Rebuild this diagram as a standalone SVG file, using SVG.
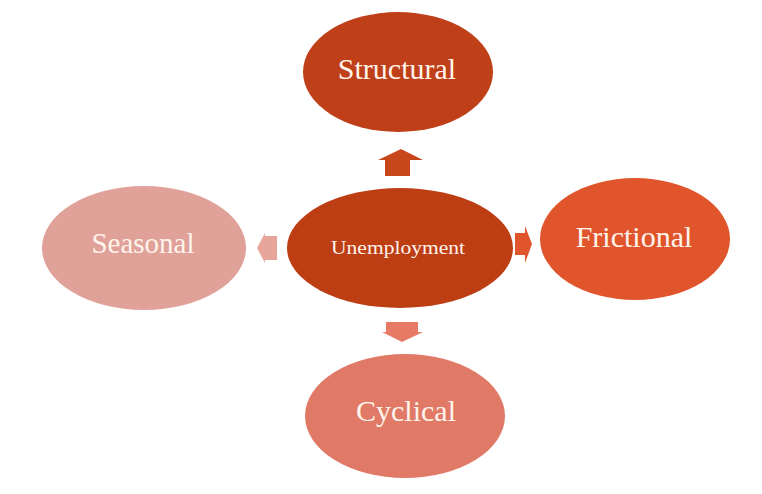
<svg xmlns="http://www.w3.org/2000/svg" width="762" height="494" viewBox="0 0 762 494">
<style>
.lbl{font-family:"Liberation Serif","Times New Roman",serif;fill:#FFF4EC;text-anchor:middle}
</style>
<rect width="762" height="494" fill="#FFFFFF"/>
<g id="connectors">
<polygon points="401,149 423,160 410,160 410,176 385,176 385,160 378,160" fill="#C8461C"/>
<polygon points="257,248 265,233 265,236 277,236 277,260 265,260 265,263" fill="#E8A59C"/>
<polygon points="532,244 525,226 525,233 515,233 515,255 525,255 525,263" fill="#E0552C"/>
<polygon points="402,342 423,332 418,332 418,322 386,322 386,332 382,332" fill="#E67A64"/>
</g>
<g id="unemployment">
<ellipse cx="400" cy="248" rx="113" ry="60" fill="#BE3E14"/>
<text class="lbl" x="398" y="254" font-size="18" textLength="134" lengthAdjust="spacingAndGlyphs">Unemployment</text>
</g>
<g id="structural">
<ellipse cx="398" cy="72" rx="95" ry="60" fill="#BF4018"/>
<text class="lbl" x="397" y="79" font-size="30">Structural</text>
</g>
<g id="frictional">
<ellipse cx="635" cy="239" rx="95" ry="61" fill="#E0552C"/>
<text class="lbl" x="634" y="247" font-size="30">Frictional</text>
</g>
<g id="seasonal">
<ellipse cx="144" cy="248" rx="102" ry="62" fill="#E0A198"/>
<text class="lbl" x="143" y="253" font-size="29">Seasonal</text>
</g>
<g id="cyclical">
<ellipse cx="405" cy="416" rx="100" ry="62" fill="#E07A66"/>
<text class="lbl" x="406" y="421" font-size="30">Cyclical</text>
</g>
</svg>
